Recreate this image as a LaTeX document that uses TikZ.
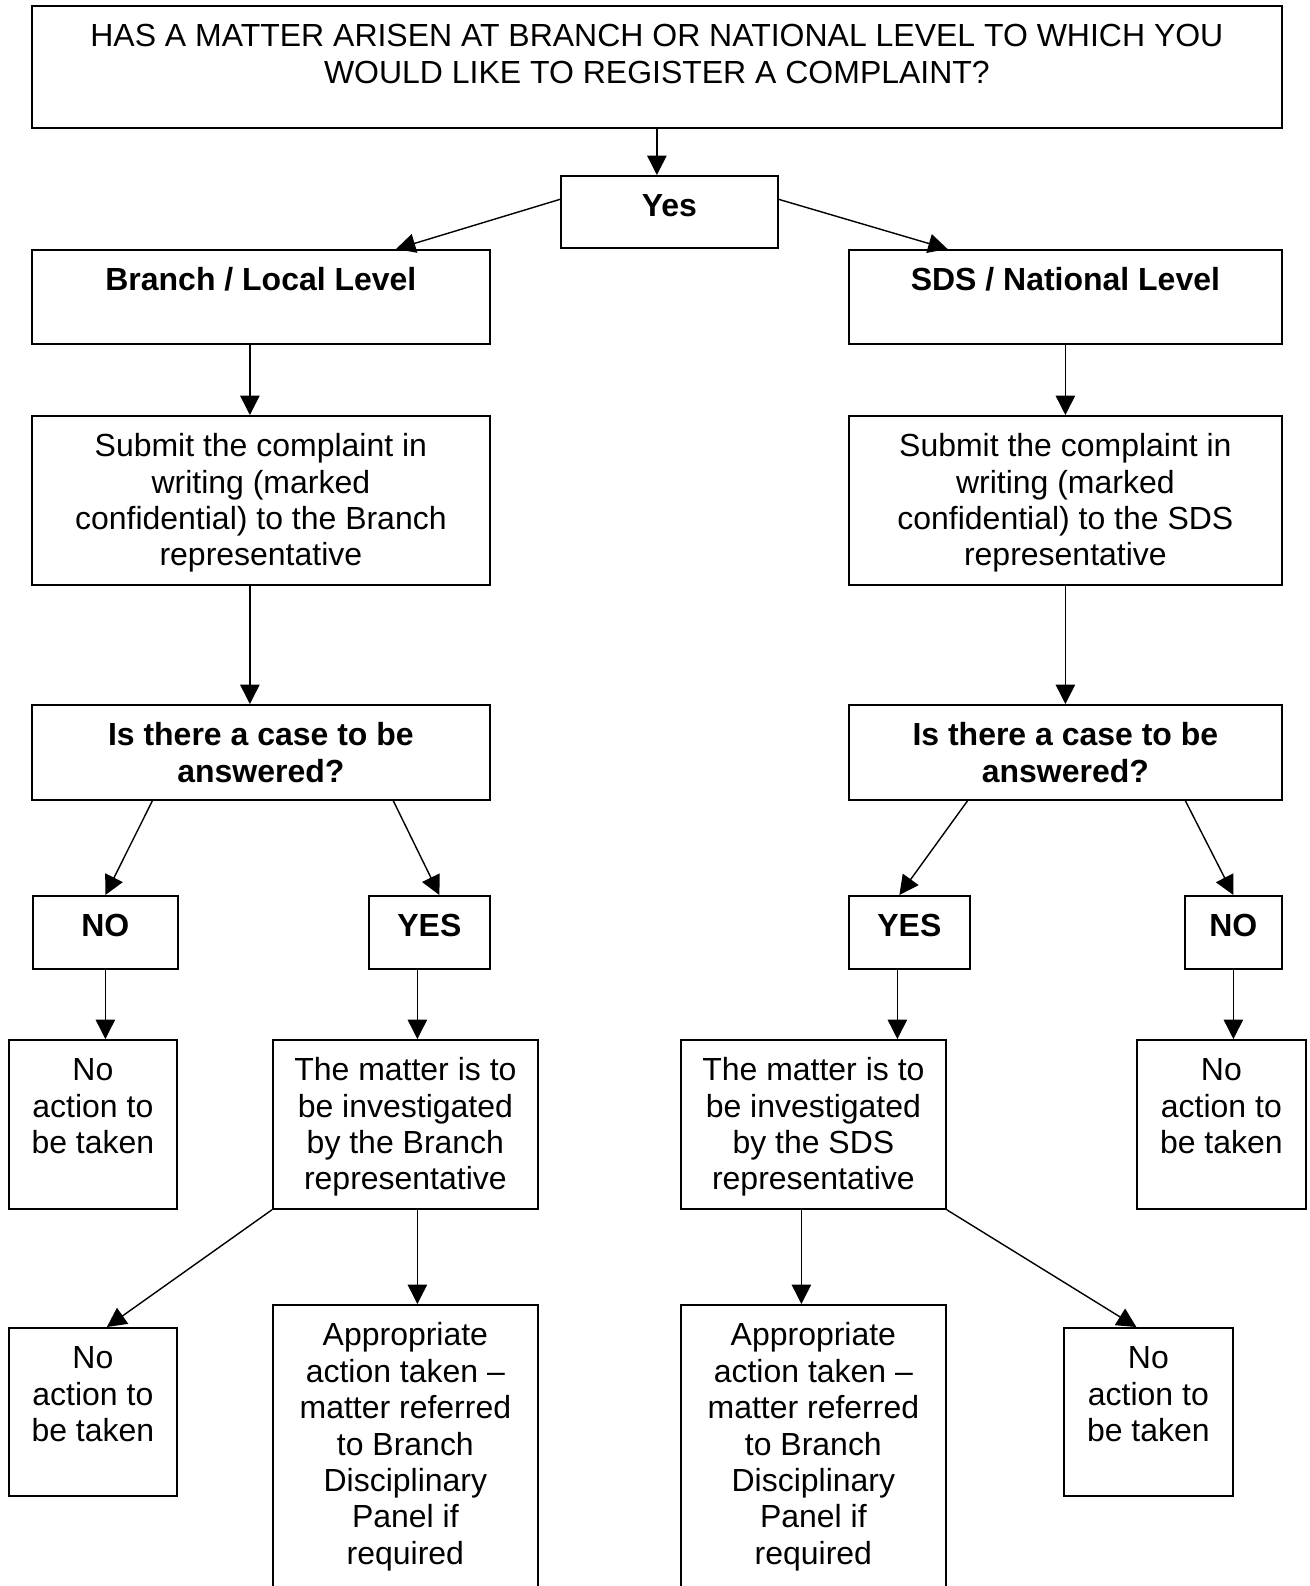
\documentclass[tikz,border=0pt]{standalone}
\usepackage{fontspec}
\setmainfont{Liberation Sans}
\usetikzlibrary{calc,arrows.meta}
\newlength{\pxu}
\setlength{\pxu}{0.02cm}
% box text: width, height (in px), top aligned
\newcommand{\bx}[3]{\parbox[t][#2\pxu][t]{#1\pxu}{\centering\rule{0pt}{41\pxu}#3}}

\begin{document}
\begin{tikzpicture}[x=0.02cm, y=-0.02cm, font=\fontsize{18.2}{20.7}\selectfont]
\tikzstyle{blk}=[draw, line width=1pt, rectangle, inner sep=0pt, anchor=north west]
\tikzstyle{arr}=[line width=0.8pt, -{Triangle[length=11pt, width=11pt]}]
\useasboundingbox (0,0) rectangle (1309,1586);
\clip (0,0) rectangle (1309,1586);
\node[blk] (top) at (31,5) {\bx{1250}{122}{HAS A MATTER ARISEN AT BRANCH OR NATIONAL LEVEL TO WHICH YOU\\WOULD LIKE TO REGISTER A COMPLAINT?}};
\node[blk] (yes) at (560,175) {\bx{217}{72}{\bfseries Yes}};
% branch side
\node[blk] (brl) at (31,249) {\bx{458}{94}{\bfseries Branch / Local Level}};
\node[blk] (subl) at (31,415) {\bx{458}{169}{Submit the complaint in\\writing (marked\\confidential) to the Branch\\representative}};
\node[blk] (casel) at (31,704) {\bx{458}{95}{\bfseries Is there a case to be\\answered?}};
\node[blk] (nol) at (32,895) {\bx{145}{73}{\bfseries NO}};
\node[blk] (yesl) at (368,895) {\bx{121}{73}{\bfseries YES}};
\node[blk] (nal) at (8,1039) {\bx{168}{169}{No\\action to\\be taken}};
\node[blk] (matl) at (272,1039) {\bx{265}{169}{The matter is to\\be investigated\\by the Branch\\representative}};
\node[blk] (nal2) at (8,1327) {\bx{168}{168}{No\\action to\\be taken}};
\node[blk] (appl) at (272,1304) {\bx{265}{300}{Appropriate\\action taken \textendash\\matter referred\\to Branch\\Disciplinary\\Panel if\\required}};
% national side
\node[blk] (sds) at (848,249) {\bx{433}{94}{\bfseries SDS / National Level}};
\node[blk] (subr) at (848,415) {\bx{433}{169}{Submit the complaint in\\writing (marked\\confidential) to the SDS\\representative}};
\node[blk] (caser) at (848,704) {\bx{433}{95}{\bfseries Is there a case to be\\answered?}};
\node[blk] (yesr) at (848,895) {\bx{121}{73}{\bfseries YES}};
\node[blk] (nor) at (1184,895) {\bx{97}{73}{\bfseries NO}};
\node[blk] (matr) at (680,1039) {\bx{265}{169}{The matter is to\\be investigated\\by the SDS\\representative}};
\node[blk] (nar) at (1136,1039) {\bx{169}{169}{No\\action to\\be taken}};
\node[blk] (appr) at (680,1304) {\bx{265}{300}{Appropriate\\action taken \textendash\\matter referred\\to Branch\\Disciplinary\\Panel if\\required}};
\node[blk] (nar2) at (1063,1327) {\bx{169}{168}{No\\action to\\be taken}};
% straight arrows
\foreach \i/\j/\d in {top/yes/0, brl/subl/-11, subl/casel/-11, sds/subr/0, subr/caser/0, nol/nal/0, yesl/matl/-12, matl/appl/12, yesr/matr/-12, matr/appr/-12, nor/nar/0}
  {\draw[arr] ($(\i.south)+(\d,0)$) -- ($(\j.north -| \i.south)+(\d,0)$);}
% slanted arrows
\draw[arr] ($(yes.north west)!0.33!(yes.south west)$) -- ($(brl.north west)!0.794!(brl.north east)$);
\draw[arr] ($(yes.north east)!0.33!(yes.south east)$) -- ($(sds.north west)!0.229!(sds.north east)$);
\draw[arr] ($(casel.south west)!0.264!(casel.south east)$) -- (nol.north);
\draw[arr] ($(casel.south west)!0.788!(casel.south east)$) -- ($(yesl.north)+(10,0)$);
\draw[arr] ($(caser.south west)!0.275!(caser.south east)$) -- ($(yesr.north)+(-10,0)$);
\draw[arr] ($(caser.south west)!0.776!(caser.south east)$) -- (nor.north);
\draw[arr] (matl.south west) -- ($(nal2.north)+(14,0)$);
\draw[arr] (matr.south east) -- ($(nar2.north)+(-12,0)$);
\end{tikzpicture}
\end{document}
